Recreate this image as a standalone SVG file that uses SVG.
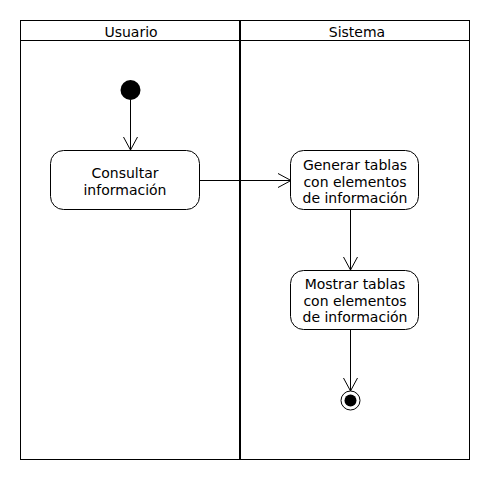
<svg xmlns="http://www.w3.org/2000/svg" width="490" height="480" viewBox="0 0 490 480">
<style>
text{font-family:"DejaVu Sans",sans-serif;font-size:14px;fill:#000;text-anchor:middle}
.act{fill:#fff;stroke:#000;stroke-width:1}
.ln{fill:none;stroke:#000;stroke-width:1}
</style>
<defs>
<marker id="open" viewBox="0 0 16 16" refX="14" refY="8" markerWidth="16" markerHeight="16" markerUnits="userSpaceOnUse" orient="auto">
<path d="M1,1 L14,8 L1,15" fill="none" stroke="#000" stroke-width="1"/>
</marker>
</defs>
<rect width="490" height="480" fill="#fff"/>
<g id="lanes">
<rect x="20.5" y="20.5" width="449" height="439" fill="none" stroke="#000"/>
<line x1="20" y1="40.5" x2="470" y2="40.5" stroke="#000"/>
<line x1="240" y1="20" x2="240" y2="460" stroke="#000" stroke-width="2"/>
<text x="131" y="37">Usuario</text>
<text x="357" y="37">Sistema</text>
</g>
<g id="connectors">
<line class="ln" x1="130.5" y1="100" x2="130.5" y2="150" marker-end="url(#open)"/>
<line class="ln" x1="199" y1="180.5" x2="291" y2="180.5" marker-end="url(#open)"/>
<line class="ln" x1="350.5" y1="209" x2="350.5" y2="270" marker-end="url(#open)"/>
<line class="ln" x1="350.5" y1="329" x2="350.5" y2="391" marker-end="url(#open)"/>
</g>
<g id="start">
<circle cx="130.5" cy="90" r="10" fill="#000"/>
</g>
<g id="consultar">
<rect class="act" x="50.5" y="150.5" width="149" height="59" rx="13"/>
<text x="125" y="178">Consultar</text>
<text x="125" y="195">información</text>
</g>
<g id="generar">
<rect class="act" x="290.5" y="150.5" width="128" height="59" rx="13"/>
<text x="355" y="170">Generar tablas</text>
<text x="355" y="186.5">con elementos</text>
<text x="355" y="203">de información</text>
</g>
<g id="mostrar">
<rect class="act" x="290.5" y="270.5" width="128" height="59" rx="13"/>
<text x="355" y="289">Mostrar tablas</text>
<text x="355" y="305.5">con elementos</text>
<text x="355" y="322">de información</text>
</g>
<g id="end">
<circle cx="350.5" cy="400.5" r="9.5" fill="#fff" stroke="#000"/>
<circle cx="350.5" cy="400.5" r="6" fill="#000"/>
</g>
</svg>
